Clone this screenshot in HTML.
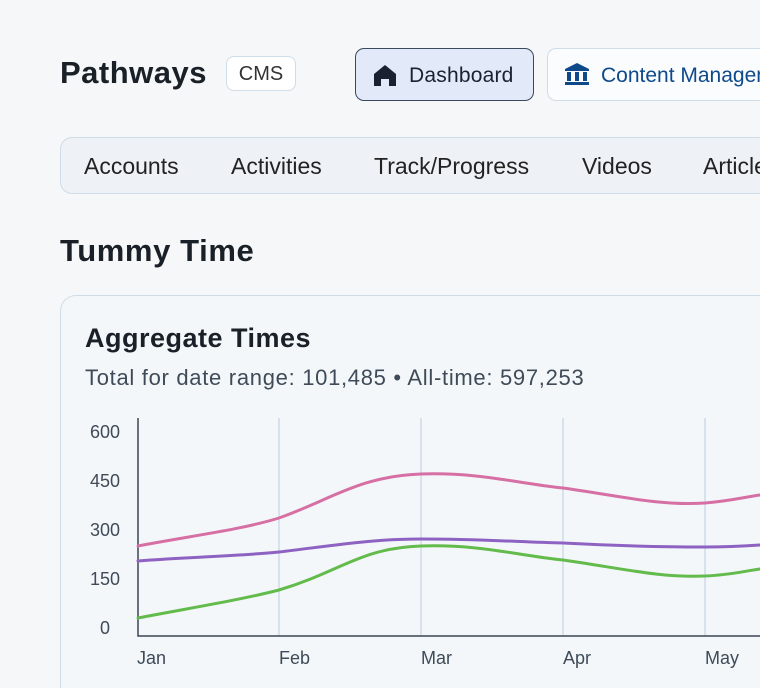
<!DOCTYPE html>
<html><head><style>
body{margin:0;width:760px;height:688px;overflow:hidden;background:#f5f7f9;font-family:"Liberation Sans",sans-serif;color:#1c2430;position:relative}
.a{position:absolute;white-space:nowrap}
</style></head><body>
<div class="a" style="left:60px;top:55px;font-size:31px;font-weight:bold;color:#1a2027;letter-spacing:0.5px">Pathways</div>
<div class="a" style="left:226px;top:56px;width:70px;height:35px;border:1px solid #cfdde8;border-radius:8px;background:#fff;box-sizing:border-box;font-size:20px;color:#333;text-align:center;line-height:35px">CMS</div>
<div class="a" style="left:355px;top:48px;width:179px;height:53px;border:1.5px solid #3a4a5c;border-radius:9px;background:#e2e9f8;box-sizing:border-box"></div>
<svg class="a" style="left:373px;top:64px" width="24" height="22" viewBox="0 0 24 22"><path d="M12 1 L23 10 V22 H16 V15 H8 V22 H1 V10 Z" fill="#1a2130"/></svg>
<div class="a" style="left:409px;top:64px;font-size:21px;color:#1a2130;letter-spacing:0.2px">Dashboard</div>
<div class="a" style="left:547px;top:48px;width:213px;height:53px;border:1px solid #cfdde8;border-right:none;border-radius:9px 0 0 9px;background:#fafcfd;box-sizing:border-box;overflow:hidden">
<div class="a" style="left:53px;top:15px;font-size:21px;color:#0e4a8a">Content Management</div></div>
<svg class="a" style="left:564px;top:62px" width="26" height="24" viewBox="0 0 26 24"><path d="M13 1 L25 7 V9 H1 V7 Z M3 10h4v9H3z M11 10h4v9h-4z M19 10h4v9h-4z M1 20h24v3H1z" fill="#0e4a8a"/></svg>
<div class="a" style="left:60px;top:137px;width:700px;height:57px;border:1px solid #cfdde8;border-right:none;border-radius:12px 0 0 12px;background:#eef2f6;box-sizing:border-box;overflow:hidden">
<div class="a" style="left:23px;top:15px;font-size:23px;color:#222">Accounts</div>
<div class="a" style="left:170px;top:15px;font-size:23px;color:#222">Activities</div>
<div class="a" style="left:313px;top:15px;font-size:23px;color:#222">Track/Progress</div>
<div class="a" style="left:521px;top:15px;font-size:23px;color:#222">Videos</div>
<div class="a" style="left:642px;top:15px;font-size:23px;color:#222">Articles</div>
</div>
<div class="a" style="left:60px;top:233px;font-size:31px;font-weight:bold;color:#1a2027;letter-spacing:0.6px">Tummy Time</div>
<div class="a" style="left:60px;top:295px;width:700px;height:393px;border:1.5px solid #cfdde8;border-right:none;border-bottom:none;border-radius:16px 0 0 0;background:#f4f7fa;box-sizing:border-box"></div>
<div class="a" style="left:85px;top:323px;font-size:27px;font-weight:bold;color:#1a2027;letter-spacing:0.5px">Aggregate Times</div>
<div class="a" style="left:85px;top:365px;font-size:22px;color:#3f4b58;letter-spacing:0.7px">Total for date range: 101,485 • All-time: 597,253</div>
<svg class="a" style="left:0;top:0" width="760" height="688">
<g stroke="#c9d8e6" stroke-width="1.3">
<line x1="279" y1="418" x2="279" y2="636"/><line x1="421" y1="418" x2="421" y2="636"/><line x1="563" y1="418" x2="563" y2="636"/><line x1="705" y1="418" x2="705" y2="636"/></g>
<path d="M138 418 V636 H760" fill="none" stroke="#3a4552" stroke-width="1.5"/>
<g font-family="Liberation Sans,sans-serif" font-size="18" fill="#3f4b58" text-anchor="end">
<text x="120" y="438">600</text><text x="120" y="487">450</text><text x="120" y="536">300</text><text x="120" y="585">150</text><text x="110" y="634">0</text></g>
<g font-family="Liberation Sans,sans-serif" font-size="18" fill="#3f4b58">
<text x="137" y="664">Jan</text><text x="279" y="664">Feb</text><text x="421" y="664">Mar</text><text x="563" y="664">Apr</text><text x="705" y="664">May</text></g>
<g fill="none" stroke-width="3" stroke-linecap="round">
<path d="M138 546 C190 536 240 530 279 518 C330 500 360 476 421 474 C480 472 520 484 563 488 C620 496 660 506 705 503 C730 501 745 497 760 495" stroke="#d670a4"/>
<path d="M138 561 C190 557 240 556 279 552 C330 546 370 539 421 539 C480 539 520 542 563 543 C620 546 660 547 705 547 C730 547 745 546 760 545" stroke="#8e62c2"/>
<path d="M138 618 C190 608 240 600 279 590 C340 572 360 548 421 546 C480 544 520 556 563 560 C620 568 660 578 705 576 C730 575 745 571 760 569" stroke="#62bb4a"/>
</g></svg>
</body></html>
